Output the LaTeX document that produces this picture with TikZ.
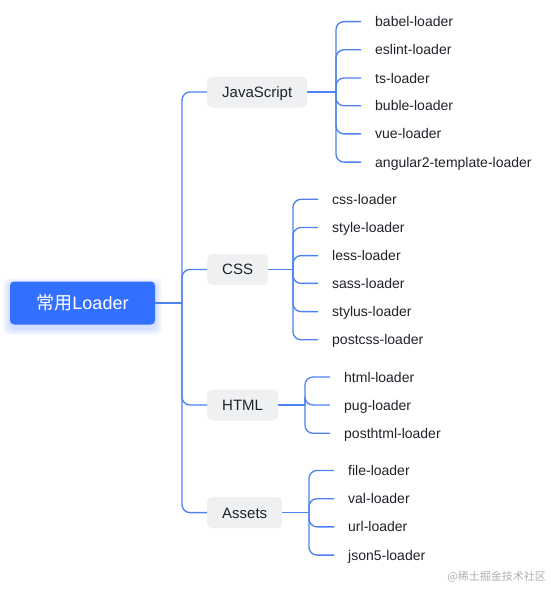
\documentclass[tikz,border=0pt]{standalone}
\usepackage{fontspec}
\setmainfont{Liberation Sans}
\newfontfamily\cjk{Noto Sans CJK SC}
\definecolor{lineblue}{HTML}{4D82F0}
\definecolor{rootblue}{HTML}{3370FF}
\definecolor{catgray}{HTML}{EFF0F2}
\definecolor{txt}{HTML}{1F2329}
\definecolor{wm}{HTML}{B0B0B0}
\begin{document}
\begin{tikzpicture}[x=1pt,y=-1pt,
 conn/.style={draw=lineblue,line width=1.35pt,rounded corners=8pt},
 rootbox/.style={fill=rootblue,rounded corners=4pt,minimum width=145pt,minimum height=43pt,text=white,font=\fontsize{18}{20}\selectfont,inner sep=0pt},
 catbox/.style={fill=catgray,rounded corners=5pt,minimum height=31pt,inner xsep=15pt,anchor=west,text=txt,font=\fontsize{15}{18}\selectfont,text height=10.8pt,text depth=0pt},
 leaf/.style={anchor=west,inner xsep=14pt,inner ysep=0pt,text=txt,font=\fontsize{14}{16}\selectfont,text height=10pt,text depth=0pt},
 glow/.style={fill=rootblue,opacity=0.03,rounded corners=6pt},
 watermark/.style={anchor=east,inner sep=0pt,text=wm,font=\cjk\fontsize{11}{13}\selectfont}
]
\useasboundingbox (0,0) rectangle (551,589);
\fill[white] (0,0) rectangle (551,589);
% glow under root
\foreach \d in {1,2,...,7} {
  \fill[glow] (10-\d,285-\d) rectangle (155+\d,328+\d);
}
\node[rootbox] (root) at (82.5,303) {{\cjk 常用}Loader};

% categories
\node[catbox] (js) at (207,92) {JavaScript};
\node[catbox] (css) at (207,269.5) {CSS};
\node[catbox] (html) at (207,405) {HTML};
\node[catbox] (assets) at (207,512.6) {Assets};

% trunk
\coordinate (trunk) at (182,303);
\draw[conn] (root.east) -- (trunk);
\draw[conn] (trunk) |- (js.west);
\draw[conn] (trunk) |- (css.west);
\draw[conn] (trunk) |- (html.west);
\draw[conn] (trunk) |- (assets.west);

% bracket points
\coordinate (jsb) at (336,92);
\coordinate (cssb) at (293,269.5);
\coordinate (htmlb) at (305,405);
\coordinate (assetsb) at (309,512.6);
\draw[conn] (js.east) -- (jsb);
\draw[conn] (css.east) -- (cssb);
\draw[conn] (html.east) -- (htmlb);
\draw[conn] (assets.east) -- (assetsb);

\foreach \n/\t/\y in {ja/babel-loader/21.6, jb/eslint-loader/49.8, jc/ts-loader/78, jd/buble-loader/105.8, je/vue-loader/133.9, jf/angular2-template-loader/162.1} {
  \node[leaf] (\n) at (361,\y) {\t};
  \draw[conn] (jsb) |- (\n.west);
}
\foreach \n/\t/\y in {ca/css-loader/199.3, cb/style-loader/227.5, cc/less-loader/255.6, cd/sass-loader/283.4, ce/stylus-loader/311.6, cf/postcss-loader/339.8} {
  \node[leaf] (\n) at (318,\y) {\t};
  \draw[conn] (cssb) |- (\n.west);
}
\foreach \n/\t/\y in {ha/html-loader/377, hb/pug-loader/405, hc/posthtml-loader/433.3} {
  \node[leaf] (\n) at (330,\y) {\t};
  \draw[conn] (htmlb) |- (\n.west);
}
\foreach \n/\t/\y in {aa/file-loader/470.5, ab/val-loader/498.7, ac/url-loader/526.9, ad/json5-loader/555.1} {
  \node[leaf] (\n) at (334,\y) {\t};
  \draw[conn] (assetsb) |- (\n.west);
}

\node[watermark] (wmk) at (546,577) {@稀土掘金技术社区};
\end{tikzpicture}
\end{document}
